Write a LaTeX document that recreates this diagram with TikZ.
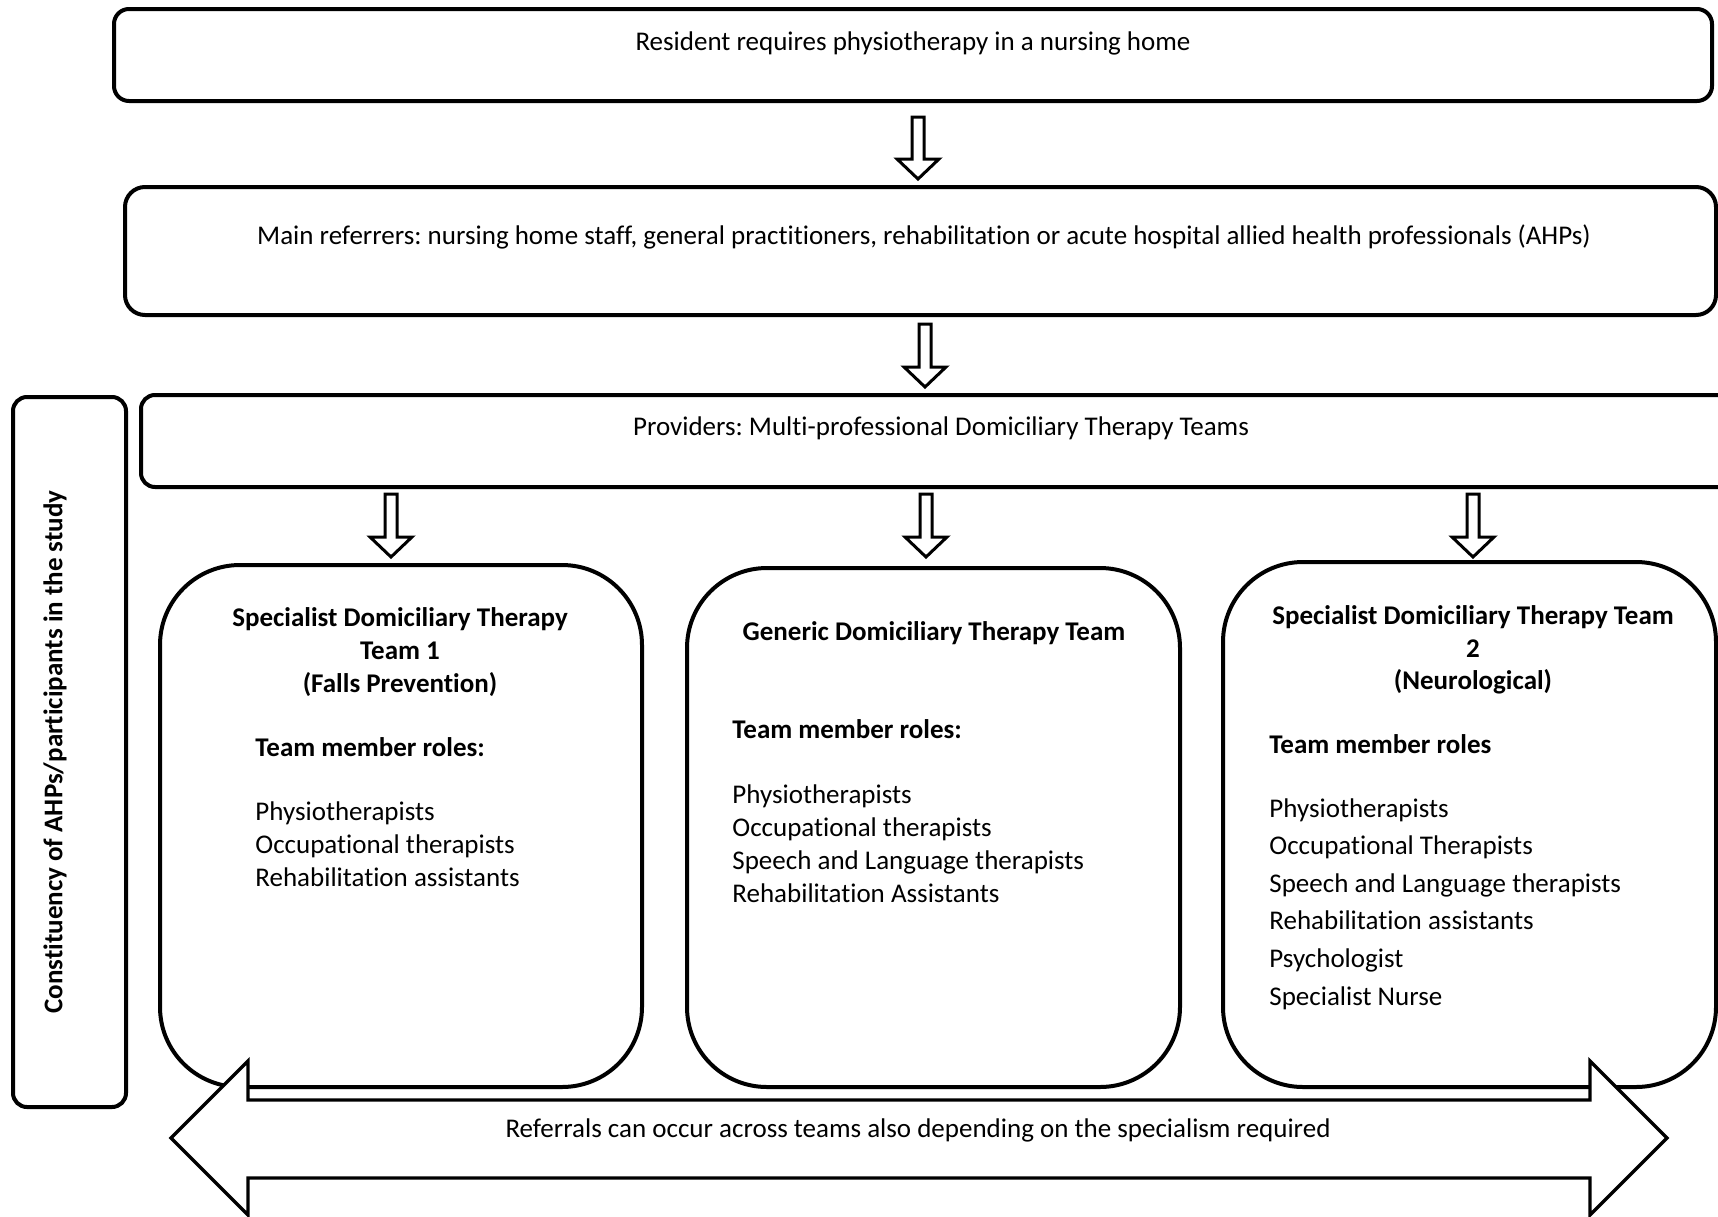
\documentclass[tikz,border=0pt]{standalone}
\usepackage{fontspec}
\setmainfont{Carlito}[Ligatures={NoCommon}]
\usetikzlibrary{fit}
\frenchspacing
\newcommand\blkdown[3]{% x, ytop, ytip
  \draw[blkarrow] (#1-6,#2) -- (#1+6,#2) -- (#1+6,#3-20) -- (#1+21,#3-20) -- (#1,#3) -- (#1-21,#3-20) -- (#1-6,#3-20) -- cycle;}
\begin{document}
\begin{tikzpicture}[x=0.5pt,y=-0.5pt,
  box/.style={draw, line width=2pt, inner sep=0pt, fill=white},
  txt/.style={font=\fontsize{13.5}{16.5}\selectfont, inner sep=0pt, anchor=base},
  ltxt/.style={txt, anchor=base west},
  btxt/.style={txt, font=\fontsize{13.5}{16.5}\selectfont\bfseries},
  lbtxt/.style={btxt, anchor=base west},
  blkarrow/.style={draw, line width=1.5pt, fill=white, line join=miter}]
\useasboundingbox (0,0) rectangle (1718,1216);
\clip (0,0) rectangle (1718,1216);
\fill[white] (0,0) rectangle (1718,1216);

% top boxes
\node[box, rounded corners=7.5pt, fit={(114,9) (1712,101)}] (b1) {};
\node[box, rounded corners=10pt, fit={(125,187) (1716,315)}] (b2) {};
\node[box, rounded corners=7pt, fit={(141,395) (1780,487)}] (b3) {};
\node[box, rounded corners=7pt, fit={(13,397) (126,1107)}] (side) {};

\node[txt] (t1) at (913,50) {Resident requires physiotherapy in a nursing home};
\node[txt] (t2) at (924,244) {Main referrers: nursing home staff, general practitioners, rehabilitation or acute hospital allied health professionals (AHPs)};
\node[txt] (t3) at (941,435) {Providers: Multi-professional Domiciliary Therapy Teams};
\node[btxt, rotate=90, anchor=center] (ts) at (55,752) {Constituency of AHPs/participants in the study};

% down arrows
\blkdown{918}{117}{179}
\blkdown{925}{324}{387}
\blkdown{391}{494}{557}
\blkdown{926}{494}{557}
\blkdown{1473}{494}{557}

% team boxes
\node[box, rounded corners=40pt, fit={(160,565) (642,1087)}] (ta) {};
\node[box, rounded corners=40pt, fit={(687,568) (1180,1087)}] (tb) {};
\node[box, rounded corners=40pt, fit={(1223,562) (1716,1087)}] (tc) {};

% team A
\node[btxt] (ta1) at (400,626) {Specialist Domiciliary Therapy};
\node[btxt] (ta2) at (400,659) {Team 1};
\node[btxt] (ta3) at (400,692) {(Falls Prevention)};
\node[lbtxt] (tah) at (255,756) {Team member roles:};
\foreach \t [count=\i] in {Physiotherapists, Occupational therapists, Rehabilitation assistants}
  \node[ltxt] (taL\i) at (255,{820+33*(\i-1)}) {\t};

% team B
\node[btxt] (tb1) at (934,640) {Generic Domiciliary Therapy Team};
\node[lbtxt] (tbh) at (732,738) {Team member roles:};
\foreach \t [count=\i] in {Physiotherapists, Occupational therapists, Speech and Language therapists, Rehabilitation Assistants}
  \node[ltxt] (tbL\i) at (732,{803+33*(\i-1)}) {\t};

% team C
\node[btxt] (tc1) at (1473,624) {Specialist Domiciliary Therapy Team};
\node[btxt] (tc2) at (1473,657) {2};
\node[btxt] (tc3) at (1473,689) {(Neurological)};
\node[lbtxt] (tch) at (1269,753) {Team member roles};
\foreach \t [count=\i] in {Physiotherapists, Occupational Therapists, Speech and Language therapists, Rehabilitation assistants, Psychologist, Specialist Nurse}
  \node[ltxt] (tcL\i) at (1269,{817+37.6*(\i-1)}) {\t};

% double arrow
\draw[blkarrow, line width=1.7pt] (171,1138) -- (248,1061) -- (248,1100) -- (1590,1100) -- (1590,1061) -- (1667,1138) -- (1590,1215) -- (1590,1178) -- (248,1178) -- (248,1215) -- cycle;
\node[txt] (tr) at (918,1137) {Referrals can occur across teams also depending on the specialism required};
\end{tikzpicture}
\end{document}
